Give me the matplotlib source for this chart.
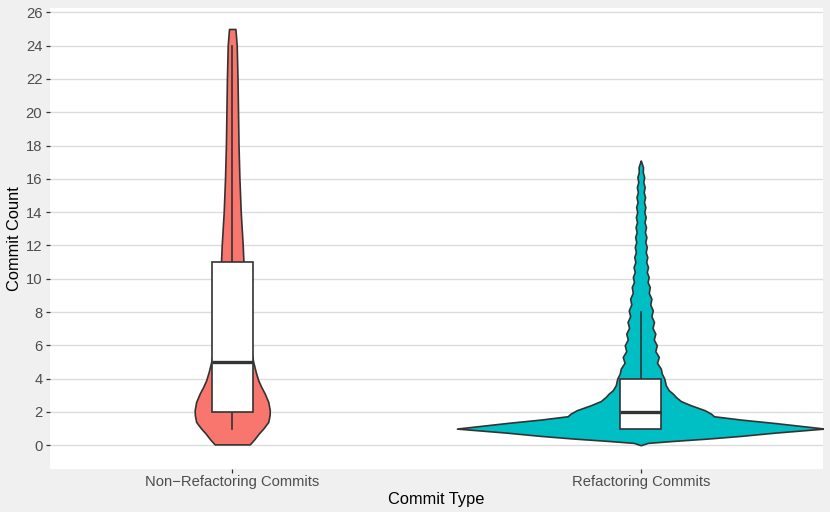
import matplotlib.pyplot as plt
from matplotlib.patches import Rectangle
import numpy as np

plt.rcParams['font.family'] = ['Liberation Sans', 'DejaVu Sans']

categories = ['Non\u2212Refactoring Commits', 'Refactoring Commits']
colors = ['#F8766D', '#00BFC4']

# violin outlines: commit count vs. density (arbitrary units)
nonref_y = [0.05, 0.35, 0.7, 1.0, 1.4, 1.8, 2.1, 2.6, 3.1, 3.5, 3.9, 4.4, 5.0, 6, 7, 8, 9, 10,
            11, 12, 14, 16, 18, 20, 22, 24, 25]
nonref_dens = [17.5, 22, 26.5, 31, 36, 37.3, 37.5, 36, 32.5, 29, 26, 23.5, 21, 18, 16, 14.5, 13, 12,
               11.2, 10.5, 8.5, 7.2, 6.3, 5.8, 5.3, 4.5, 3.2]

ref_y = [0.0, 0.14, 0.26, 0.4, 0.56, 0.75, 1.0, 1.34, 1.54, 1.74, 1.9, 2.1, 2.4, 2.65, 2.9, 3.1,
         3.3, 3.6, 4.0, 4.3, 4.6, 4.95, 5.3, 5.65, 6.0, 6.35, 6.7, 7.05, 7.4, 7.75, 8.1, 8.45,
         8.8, 9.15, 9.5, 9.8, 10.1, 10.4, 10.7, 11.0, 11.3, 11.6, 11.9, 12.2, 12.5, 12.8, 13.1,
         13.4, 13.7, 14.0, 14.3, 14.6, 14.9, 15.2, 15.5, 15.8, 16.1, 16.4, 16.7, 17.0, 17.1]
ref_dens = [0, 7, 33, 67, 100, 133, 183.6, 133, 100, 73, 70, 64, 50, 40, 35, 32,
            28, 25, 23.5, 21, 20, 16.2, 18.0, 14.5, 16.0, 13.0, 14.5, 11.7, 13.2, 10.6, 12.0, 9.5,
            10.6, 8.0, 9.0, 6.8, 7.9, 6.0, 7.2, 5.4, 6.5, 4.9, 6.0, 4.5, 5.6, 4.1, 5.2,
            3.7, 4.9, 3.5, 4.6, 3.2, 4.3, 2.9, 3.9, 2.5, 3.4, 2.0, 2.2, 0.6, 0]

# boxplot stats: lower whisker, q1, median, q3, upper whisker
whisk_lo = [1, 1]
q1 = [2, 1]
median = [5, 2]
q3 = [11, 4]
whisk_hi = [24, 8]

fig = plt.figure(figsize=(8.3, 5.12), dpi=100)
fig.patch.set_facecolor('#F0F0F0')
ax = fig.add_axes([50/830, 1-468.7/512, 773/830, 460.7/512])
ax.set_facecolor('white')

outline = '#333333'
max_dens = max(max(nonref_dens), max(ref_dens))
profiles = [(nonref_y, nonref_dens), (ref_y, ref_dens)]
for i, (ys, ds) in enumerate(profiles):
    x = i + 1
    half = 0.45 * np.array(ds) / max_dens
    ax.fill_betweenx(ys, x - half, x + half, facecolor=colors[i], edgecolor=outline,
                     linewidth=1.2, zorder=2)
    # boxplot on top
    bw = 0.05
    ax.plot([x, x], [q3[i], whisk_hi[i]], color=outline, lw=1.2, zorder=3)
    ax.plot([x, x], [whisk_lo[i], q1[i]], color=outline, lw=1.2, zorder=3)
    ax.add_patch(Rectangle((x - bw, q1[i]), 2 * bw, q3[i] - q1[i], facecolor='white',
                           edgecolor=outline, lw=1.2, zorder=4))
    ax.plot([x - bw, x + bw], [median[i], median[i]], color=outline, lw=2.4,
            solid_capstyle='butt', zorder=5)

ax.set_xlim(0.554, 2.446)
ax.set_ylim(-1.41, 26.26)
ax.set_yticks(np.arange(0, 27, 2))
ax.set_xticks([1, 2])
ax.set_xticklabels(categories)
ax.grid(axis='y', color='#DCDCDC', lw=1.0, zorder=0)
ax.set_axisbelow(True)
for s in ax.spines.values():
    s.set_visible(False)
ax.tick_params(length=3, width=0.9, color=outline, labelcolor='#4D4D4D', labelsize=10.6, pad=2.5)
ax.tick_params(axis='x', pad=1.5)
ax.set_xlabel('Commit Type', fontsize=11.8, labelpad=2)
ax.set_ylabel('Commit Count', fontsize=11.8, labelpad=3)

fig.savefig('out.png', dpi=100, facecolor=fig.get_facecolor())
